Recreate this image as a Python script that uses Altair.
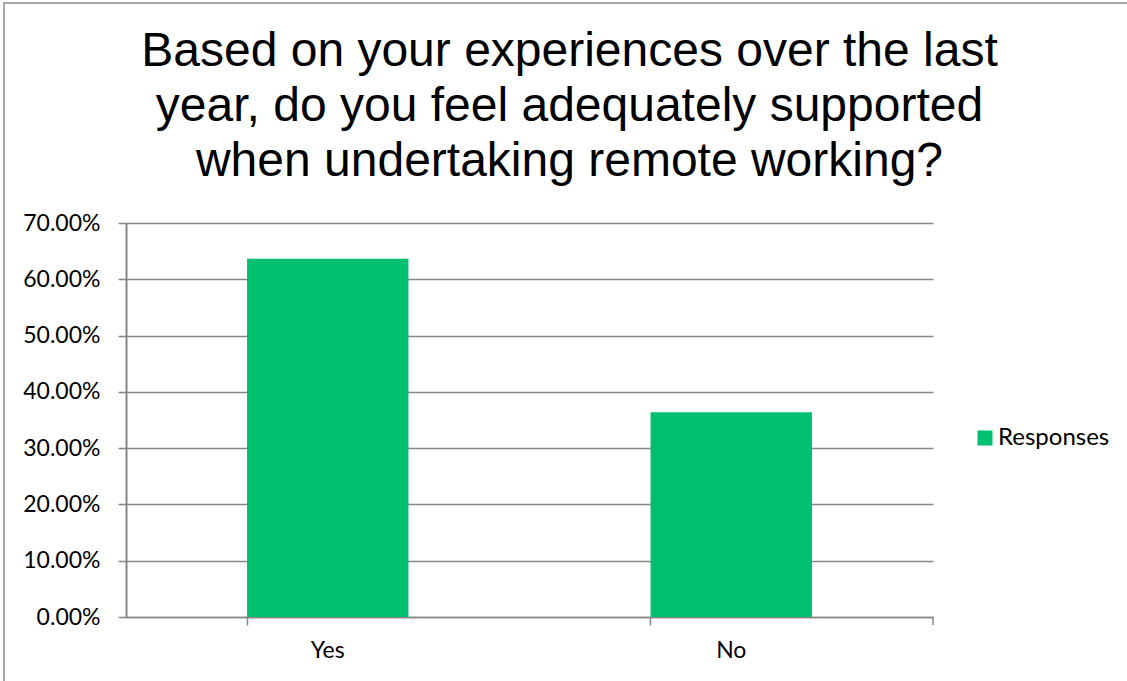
import altair as alt
import pandas as pd

categories = ["Yes", "No"]
values = [0.6364, 0.3636]
series = ["Responses", "Responses"]
title_lines = [
    "Based on your experiences over the last",
    "year, do you feel adequately supported",
    "when undertaking remote working?",
]
y_ticks = [0, 0.1, 0.2, 0.3, 0.4, 0.5, 0.6, 0.7]

df = pd.DataFrame({"category": categories, "value": values, "series": series})

W, H = 807, 394
GRAY = "#868686"
GREEN = "#00BF6F"
LABEL_FONT = "Lato"

base = alt.Chart(df)

bars = base.mark_bar(color=GREEN).encode(
    x=alt.X(
        "category:N",
        sort=categories,
        scale=alt.Scale(paddingInner=0.6, paddingOuter=0.3),
        axis=alt.Axis(
            title=None, labelAngle=0, bandPosition=0, tickSize=8, tickColor=GRAY,
            tickWidth=1.5, domainColor=GRAY, domainWidth=1.5, labelFont=LABEL_FONT,
            labelFontSize=23, labelColor="black", labelPadding=14, grid=False,
        ),
    ),
    y=alt.Y(
        "value:Q",
        scale=alt.Scale(domain=[0, 0.7], nice=False),
        axis=alt.Axis(
            title=None, values=y_ticks, format=".2%", tickSize=8, tickColor=GRAY,
            tickWidth=1.5, domainColor=GRAY, domainWidth=2, grid=True,
            gridColor=GRAY, gridWidth=1.5, labelFont=LABEL_FONT, labelFontSize=23,
            labelColor="black", labelPadding=18,
        ),
    ),
    color=alt.Color(
        "series:N",
        scale=alt.Scale(range=[GREEN]),
        legend=alt.Legend(
            title=None, orient="none", legendX=847, legendY=203, symbolType="square",
            symbolSize=225, symbolStrokeWidth=0, labelFont=LABEL_FONT,
            labelFontSize=24, labelColor="black", labelOffset=1, padding=0,
            labelLimit=300,
        ),
    ),
)

end_tick = alt.Chart(alt.Data(values=[{}])).mark_rule(color=GRAY, strokeWidth=1.5).encode(
    x=alt.value(W), y=alt.value(H), y2=alt.value(H + 8)
)

border = alt.Chart(alt.Data(values=[{}])).mark_rect(
    fill=None, stroke="#8c8c8c", strokeWidth=1.5
).encode(
    x=alt.value(-122), y=alt.value(-220), x2=alt.value(1140), y2=alt.value(700)
)

chart = alt.layer(border, bars, end_tick).properties(
    width=W,
    height=H,
    autosize=alt.AutoSizeParams(type="none"),
    padding={"left": 126, "top": 223, "right": 194, "bottom": 64},
    title=alt.TitleParams(
        text=title_lines, font="Liberation Sans", fontSize=48, fontWeight="normal",
        lineHeight=55, color="black", anchor="middle", dx=40, offset=0, dy=184,
    ),
).configure(background="white").configure_view(
    stroke="transparent", strokeWidth=0, strokeOpacity=0
)

chart.save("out.html", embed_options={"renderer": "svg", "actions": False})
